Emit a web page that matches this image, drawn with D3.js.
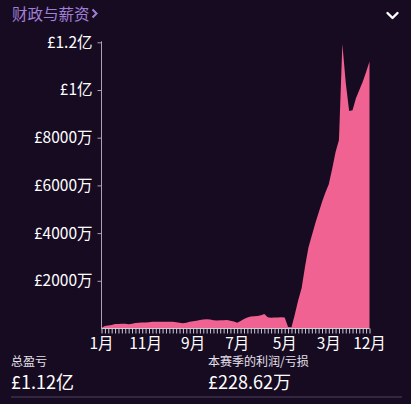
<!DOCTYPE html>
<html><head><meta charset="utf-8">
<script src="https://cdn.jsdelivr.net/npm/d3@7"></script>
<style>
html,body{margin:0;padding:0;background:#170b22;}
svg{display:block;font-family:"Noto Sans CJK SC","Noto Sans",sans-serif;}
</style></head><body>
<svg id="c" width="411" height="404"></svg>
<script>
// values in 万 (10,000 £), one per weekly tick
const values = [30,100,130,150,190,190,195,195,180,200,
  230,240,250,255,265,285,280,280,285,280,
  285,280,265,245,220,240,280,300,330,360,
  380,385,375,350,340,345,350,355,320,290,
  245,310,400,460,500,510,520,560,610,470,
  455,460,465,470,460,60,50,600,1200,1700,
  2600,3400,3900,4400,4850,5300,5700,6050,6700,7400,
  7900,11930,10300,9120,9150,9650,10000,10350,10750,11200];
const xLabels = [[0,"1月"],[13,"11月"],[27,"9月"],[40,"7月"],[54,"5月"],[67,"3月"],[79,"12月"]];
const yTicks = [2000,4000,6000,8000,10000,12000];
const yTickLabels = ["£2000万","£4000万","£6000万","£8000万","£1亿","£1.2亿"];
const title = "财政与薪资";
const totalLabel = "总盈亏", totalValue = "£1.12亿";
const seasonLabel = "本赛季的利润/亏损", seasonValue = "£228.62万";

const svg = d3.select("#c");
const x0 = 101.5, x1 = 369.5, yBase = 328.5;
const x = d3.scaleLinear().domain([0, values.length-1]).range([x0, x1]);
const y = d3.scaleLinear().domain([0, 12000]).range([yBase, 42.3]);

// title
const t = svg.append("text").attr("x",12).attr("y",20).attr("fill","#a07fd6")
  .attr("font-size",15.5).text(title);
const tw = t.node().getComputedTextLength();
svg.append("path").attr("d",`M${12+tw+3},9.5 L${12+tw+7},13.5 L${12+tw+3},17.5`).attr("fill","none")
  .attr("stroke","#a07fd6").attr("stroke-width",2).attr("stroke-linejoin","miter");
svg.append("path").attr("d","M387.5,13 L392.5,18 L397.5,13").attr("fill","none")
  .attr("stroke","#fff").attr("stroke-width",2.4).attr("stroke-linecap","round").attr("stroke-linejoin","round");

// area
const area = d3.area().x((d,i)=>x(i)).y0(yBase).y1(d=>y(d));
svg.append("path").datum(values).attr("d",area).attr("fill","#f06292");

// y axis
const yAxis = d3.axisLeft(y).tickValues(yTicks).tickSize(4).tickPadding(5)
  .tickFormat((d,i)=>yTickLabels[i]);
const gy = svg.append("g").attr("transform",`translate(${x0},0)`).call(yAxis);
gy.select(".domain").attr("stroke","#a9a3b3").attr("d",`M0,${y(12000)-1}V${yBase}`);
gy.selectAll(".tick line").attr("stroke","#a9a3b3");
gy.selectAll(".tick text").attr("fill","#fff").attr("font-size",15.5)
  .attr("font-family","'Noto Sans CJK SC',sans-serif");

// x axis
const xAxis = d3.axisBottom(x).tickValues(d3.range(values.length)).tickSize(5).tickFormat("");
const gx = svg.append("g").attr("transform",`translate(0,${yBase})`).call(xAxis);
gx.select(".domain").attr("stroke","#cfc9d6").attr("d",`M${x0},0H${x1}`);
gx.selectAll(".tick line").attr("stroke","#cfc9d6");
svg.append("g").selectAll("text").data(xLabels).join("text")
  .attr("x",d=>x(d[0])).attr("y",yBase+20).attr("text-anchor","middle")
  .attr("fill","#fff").attr("font-size",15.5).text(d=>d[1]);

// bottom summaries
svg.append("text").attr("x",11).attr("y",366).attr("fill","#e6e1ec").attr("font-size",12).text(totalLabel);
svg.append("text").attr("x",11).attr("y",389).attr("fill","#fff").attr("font-size",18).text(totalValue);
svg.append("text").attr("x",208).attr("y",366).attr("fill","#e6e1ec").attr("font-size",12).text(seasonLabel);
svg.append("text").attr("x",208).attr("y",389).attr("fill","#fff").attr("font-size",18).text(seasonValue);
svg.append("line").attr("x1",11).attr("x2",402).attr("y1",397).attr("y2",397)
  .attr("stroke","#3d3249").attr("stroke-width",1.5);
</script>
</body></html>
